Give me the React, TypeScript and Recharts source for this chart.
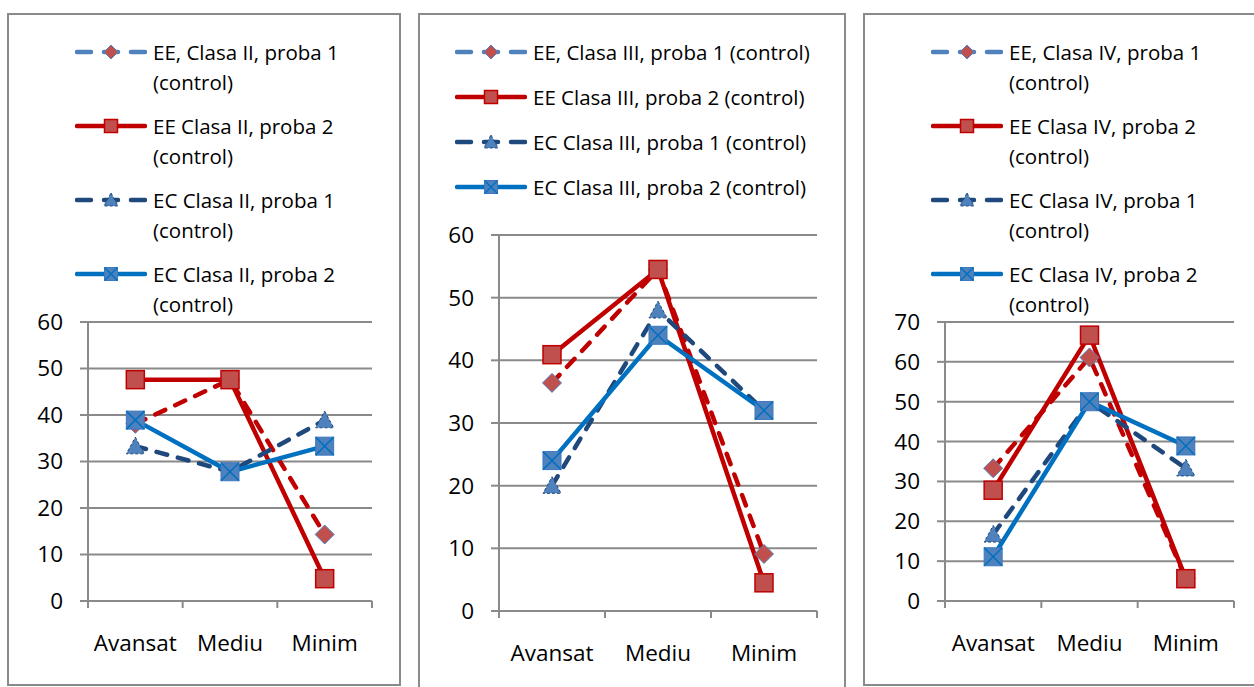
import React from 'react';
import { LineChart, Line, XAxis, YAxis, CartesianGrid, Legend } from 'recharts';

const categories = ['Avansat', 'Mediu', 'Minim'];

const namesII = [
  'EE, Clasa II, proba 1 (control)',
  'EE Clasa II, proba 2 (control)',
  'EC Clasa II, proba 1 (control)',
  'EC Clasa II, proba 2 (control)',
];
const eeP1II = [38.1, 47.6, 14.3];
const eeP2II = [47.6, 47.6, 4.8];
const ecP1II = [33.3, 27.8, 38.9];
const ecP2II = [38.9, 27.8, 33.3];

const namesIII = [
  'EE, Clasa III, proba 1 (control)',
  'EE Clasa III, proba 2 (control)',
  'EC Clasa III, proba 1 (control)',
  'EC Clasa III, proba 2 (control)',
];
const eeP1III = [36.4, 54.5, 9.1];
const eeP2III = [40.9, 54.5, 4.5];
const ecP1III = [20, 48, 32];
const ecP2III = [24, 44, 32];

const namesIV = [
  'EE, Clasa IV, proba 1 (control)',
  'EE Clasa IV, proba 2 (control)',
  'EC Clasa IV, proba 1 (control)',
  'EC Clasa IV, proba 2 (control)',
];
const eeP1IV = [33.3, 61.1, 5.6];
const eeP2IV = [27.8, 66.7, 5.6];
const ecP1IV = [16.7, 50, 33.3];
const ecP2IV = [11.1, 50, 38.9];

const yTicks60 = [0, 10, 20, 30, 40, 50, 60];
const yTicks70 = [0, 10, 20, 30, 40, 50, 60, 70];
const xTicks = [0, 0.5, 1, 1.5, 2, 2.5, 3];

const FONT = "'Open Sans', 'Noto Sans', sans-serif";
const GRAY = '#8a8a8a';

type Kind = 'diamond' | 'square' | 'triangle' | 'xsquare';

const styles: { key: string; stroke: string; dash?: string; legendStroke: string; marker: Kind }[] = [
  { key: 's1', stroke: '#C00000', dash: '11 11', legendStroke: '#4F81BD', marker: 'diamond' },
  { key: 's2', stroke: '#C00000', legendStroke: '#C00000', marker: 'square' },
  { key: 's3', stroke: '#1F497D', dash: '11 11', legendStroke: '#1F497D', marker: 'triangle' },
  { key: 's4', stroke: '#0070C0', legendStroke: '#0070C0', marker: 'xsquare' },
];

function Marker({ kind, cx, cy, size }: { kind: Kind; cx: number; cy: number; size: number }) {
  if (cx == null || cy == null || isNaN(cx) || isNaN(cy)) return <g />;
  const h = size / 2;
  if (kind === 'diamond') {
    return (
      <polygon
        points={`${cx},${cy - h} ${cx + h},${cy} ${cx},${cy + h} ${cx - h},${cy}`}
        fill="#C0504D"
        stroke="#4F81BD"
        strokeWidth={1}
      />
    );
  }
  if (kind === 'square') {
    return <rect x={cx - h} y={cy - h} width={size} height={size} fill="#C0504D" stroke="#C00000" strokeWidth={1.5} />;
  }
  if (kind === 'triangle') {
    return (
      <polygon
        points={`${cx},${cy - h} ${cx + h},${cy + h * 0.85} ${cx - h},${cy + h * 0.85}`}
        fill="#4F81BD"
        stroke="#1F497D"
        strokeWidth={1}
        strokeDasharray="3 2"
      />
    );
  }
  return (
    <g>
      <rect x={cx - h} y={cy - h} width={size} height={size} fill="#4F81BD" stroke="#3C78C0" strokeWidth={1} />
      <line x1={cx - h} y1={cy - h} x2={cx + h} y2={cy + h} stroke="#0070C0" strokeWidth={1.5} />
      <line x1={cx - h} y1={cy + h} x2={cx + h} y2={cy - h} stroke="#0070C0" strokeWidth={1.5} />
    </g>
  );
}

const XTick = (props: any) => {
  const { x, y, payload } = props;
  const v = payload.value as number;
  if (Number.isInteger(v)) {
    return <line x1={x} x2={x} y1={y} y2={y + 7} stroke={GRAY} strokeWidth={2} />;
  }
  return (
    <text x={x} y={y + 50} textAnchor="middle" fontSize={22.5} fill="#000" fontFamily={FONT}>
      {categories[Math.floor(v)]}
    </text>
  );
};

function makeLegend(textWidth: number, gap: number) {
  return (props: any) => {
    const payload = [...(props.payload || [])].sort(
      (a: any, b: any) =>
        styles.findIndex((s) => s.key === a.dataKey) - styles.findIndex((s) => s.key === b.dataKey)
    );
    return (
      <div style={{ display: 'flex', flexDirection: 'column', rowGap: gap, fontFamily: FONT }}>
        {payload.map((entry: any, i: number) => {
          const s = styles.find((st) => st.key === entry.dataKey) || styles[i];
          const msize = s.marker === 'diamond' ? 14 : s.marker === 'triangle' ? 14 : 13;
          return (
            <div key={i} style={{ display: 'flex', alignItems: 'flex-start' }}>
              <svg width={72} height={30} style={{ flex: 'none' }}>
                <line
                  x1={2}
                  x2={70}
                  y1={15}
                  y2={15}
                  stroke={s.legendStroke}
                  strokeWidth={4.5}
                  strokeDasharray={s.dash ? '14 13' : undefined}
                  strokeLinecap="round"
                />
                <Marker kind={s.marker} cx={36} cy={15} size={msize} />
              </svg>
              <div style={{ marginLeft: 6, width: textWidth, fontSize: 20.5, lineHeight: '30px', color: '#000' }}>
                {entry.value}
              </div>
            </div>
          );
        })}
      </div>
    );
  };
}

type PanelProps = {
  left: number;
  width: number;
  height: number;
  names: string[];
  series: number[][];
  yMax: number;
  yTicks: number[];
  marginTop: number;
  marginBottom: number;
  yAxisWidth: number;
  legendLeft: number;
  legendTop: number;
  legendTextWidth: number;
  legendGap: number;
};

function Panel(p: PanelProps) {
  const rows = categories.map((c, i) => {
    const r: any = { pos: i + 0.5, cat: c };
    styles.forEach((s, k) => {
      r[s.key] = p.series[k][i];
    });
    return r;
  });
  const chartW = p.width - 4;
  return (
    <div
      style={{
        position: 'absolute',
        left: p.left,
        top: 13,
        width: p.width,
        height: p.height,
        border: `2px solid ${GRAY}`,
        boxSizing: 'border-box',
        background: '#fff',
        fontFamily: FONT,
      }}
    >
      <LineChart
        width={chartW}
        height={669}
        data={rows}
        margin={{ top: p.marginTop, right: 27, bottom: p.marginBottom, left: 0 }}
      >
        <CartesianGrid vertical={false} stroke={GRAY} strokeWidth={2} />
        <XAxis
          type="number"
          dataKey="pos"
          domain={[0, 3]}
          ticks={xTicks}
          interval={0}
          tickLine={false}
          tickSize={0}
          tickMargin={0}
          height={60}
          axisLine={{ stroke: GRAY, strokeWidth: 2 }}
          tick={<XTick />}
        />
        <YAxis
          type="number"
          domain={[0, p.yMax]}
          ticks={p.yTicks}
          interval={0}
          width={p.yAxisWidth}
          tickSize={8}
          tickMargin={17}
          tickLine={{ stroke: GRAY, strokeWidth: 2 }}
          axisLine={{ stroke: GRAY, strokeWidth: 2 }}
          tick={{ fontSize: 22.5, fill: '#000', fontFamily: FONT }}
        />
        <Legend
          layout="vertical"
          align="center"
          verticalAlign="middle"
          itemSorter={null as any}
          wrapperStyle={{ top: p.legendTop, left: p.legendLeft, width: 72 + 6 + p.legendTextWidth }}
          content={makeLegend(p.legendTextWidth, p.legendGap)}
        />
        {styles.map((s, k) => (
          <Line
            key={s.key}
            type="linear"
            dataKey={s.key}
            name={p.names[k]}
            stroke={s.stroke}
            strokeWidth={4.5}
            strokeDasharray={s.dash}
            strokeLinecap="round"
            dot={(dp: any) => (
              <Marker
                key={`${s.key}-${dp.index}`}
                kind={s.marker}
                cx={dp.cx}
                cy={dp.cy}
                size={s.marker === 'diamond' ? 19 : 18}
              />
            )}
            activeDot={false}
            isAnimationActive={false}
          />
        ))}
      </LineChart>
    </div>
  );
}

export default function App() {
  return (
    <div style={{ position: 'absolute', left: 0, top: 0, width: 1254, height: 687, overflow: 'hidden', background: '#fff' }}>
      <Panel
        left={7}
        width={394}
        height={673}
        names={namesII}
        series={[eeP1II, eeP2II, ecP1II, ecP2II]}
        yMax={60}
        yTicks={yTicks60}
        marginTop={307}
        marginBottom={23}
        yAxisWidth={79}
        legendLeft={66}
        legendTop={22}
        legendTextWidth={230}
        legendGap={14}
      />
      <Panel
        left={418}
        width={428}
        height={700}
        names={namesIII}
        series={[eeP1III, eeP2III, ecP1III, ecP2III]}
        yMax={60}
        yTicks={yTicks60}
        marginTop={220}
        marginBottom={13}
        yAxisWidth={79}
        legendLeft={35}
        legendTop={22}
        legendTextWidth={310}
        legendGap={15}
      />
      <Panel
        left={863}
        width={400}
        height={673}
        names={namesIV}
        series={[eeP1IV, eeP2IV, ecP1IV, ecP2IV]}
        yMax={70}
        yTicks={yTicks70}
        marginTop={307}
        marginBottom={23}
        yAxisWidth={80}
        legendLeft={66}
        legendTop={22}
        legendTextWidth={230}
        legendGap={14}
      />
    </div>
  );
}
